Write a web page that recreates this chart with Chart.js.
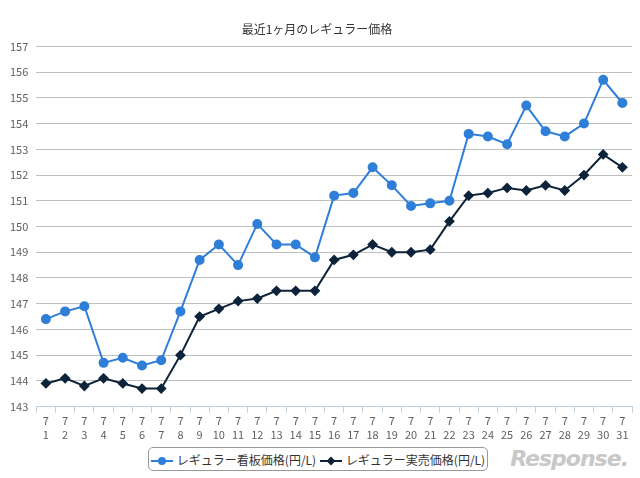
<!DOCTYPE html>
<html><head><meta charset="utf-8">
<script src="https://cdn.jsdelivr.net/npm/chart.js@4/dist/chart.umd.min.js"></script>
<style>
html,body{margin:0;padding:0;background:#fff;}
#wrap{position:relative;width:640px;height:478px;}
#legend{position:absolute;left:148px;top:447px;width:340px;height:24px;border:1px solid #999;border-radius:5px;font:12px "Noto Sans CJK JP",sans-serif;color:#333;display:flex;align-items:center;justify-content:space-around;box-sizing:border-box;}
#legend span.i{display:inline-block;width:22px;height:2px;vertical-align:middle;margin-right:4px;position:relative;}
#legend span.i b{position:absolute;left:7px;top:-3px;width:8px;height:8px;}
#logo{position:absolute;right:12px;top:446px;font:italic bold 22px "DejaVu Sans",sans-serif;color:#c8c8c8;letter-spacing:-1px;}
</style></head>
<body><div id="wrap"><canvas id="c" width="640" height="443"></canvas>
<div id="legend"><div><span class="i" style="background:#2f7ed8"><b style="background:#2f7ed8;border-radius:50%"></b></span>レギュラー看板価格(円/L)</div><div><span class="i" style="background:#0d233a"><b style="background:#0d233a;transform:rotate(45deg) scale(0.8)"></b></span>レギュラー実売価格(円/L)</div></div>
<div id="logo">Response.</div></div>
<script>
// -------------------------
// Data
// -------------------------
const DAYS = Array.from({length: 31}, (_, i) => ['7', String(i + 1)]);
const SIGN_PRICE = [146.4,146.7,146.9,144.7,144.9,144.6,144.8,146.7,148.7,149.3,148.5,150.1,149.3,149.3,148.8,151.2,151.3,152.3,151.6,150.8,150.9,151.0,153.6,153.5,153.2,154.7,153.7,153.5,154.0,155.7,154.8];
const REAL_PRICE = [143.9,144.1,143.8,144.1,143.9,143.7,143.7,145.0,146.5,146.8,147.1,147.2,147.5,147.5,147.5,148.7,148.9,149.3,149.0,149.0,149.1,150.2,151.2,151.3,151.5,151.4,151.6,151.4,152.0,152.8,152.3];
const Y_MIN = 143, Y_MAX = 157;

const font = { family: '"Noto Sans CJK JP", sans-serif' };

new Chart(document.getElementById('c'), {
  type: 'line',
  data: {
    labels: DAYS,
    datasets: [
      { label: 'レギュラー看板価格(円/L)', data: SIGN_PRICE, borderColor: '#2f7ed8', backgroundColor: '#2f7ed8',
        borderWidth: 2, pointRadius: 4, pointStyle: 'circle', tension: 0 },
      { label: 'レギュラー実売価格(円/L)', data: REAL_PRICE, borderColor: '#0d233a', backgroundColor: '#0d233a',
        borderWidth: 2, pointRadius: 4, pointStyle: 'rectRot', tension: 0 }
    ]
  },
  options: {
    responsive: false,
    animation: false,
    layout: { padding: { left: 2, right: 8, top: 22, bottom: 0 } },
    plugins: {
      legend: { display: false },
      tooltip: { enabled: false },
      title: { display: true, text: '最近1ヶ月のレギュラー価格', color: '#333', font: { ...font, size: 12, weight: 'normal' }, padding: { bottom: 10 } }
    },
    scales: {
      x: {
        offset: true,
        grid: { display: true, drawOnChartArea: false, offset: true, color: '#c0d0e0', tickLength: 6 },
        border: { color: '#c0d0e0' },
        ticks: { color: '#606060', font: { ...font, size: 11 }, maxRotation: 0, autoSkip: false, padding: 2 }
      },
      y: {
        min: Y_MIN, max: Y_MAX,
        grid: { color: '#c0c0c0', drawTicks: false },
        border: { display: false },
        ticks: { stepSize: 1, color: '#606060', font: { ...font, size: 11 }, padding: 8 }
      }
    }
  }
});
</script></body></html>
